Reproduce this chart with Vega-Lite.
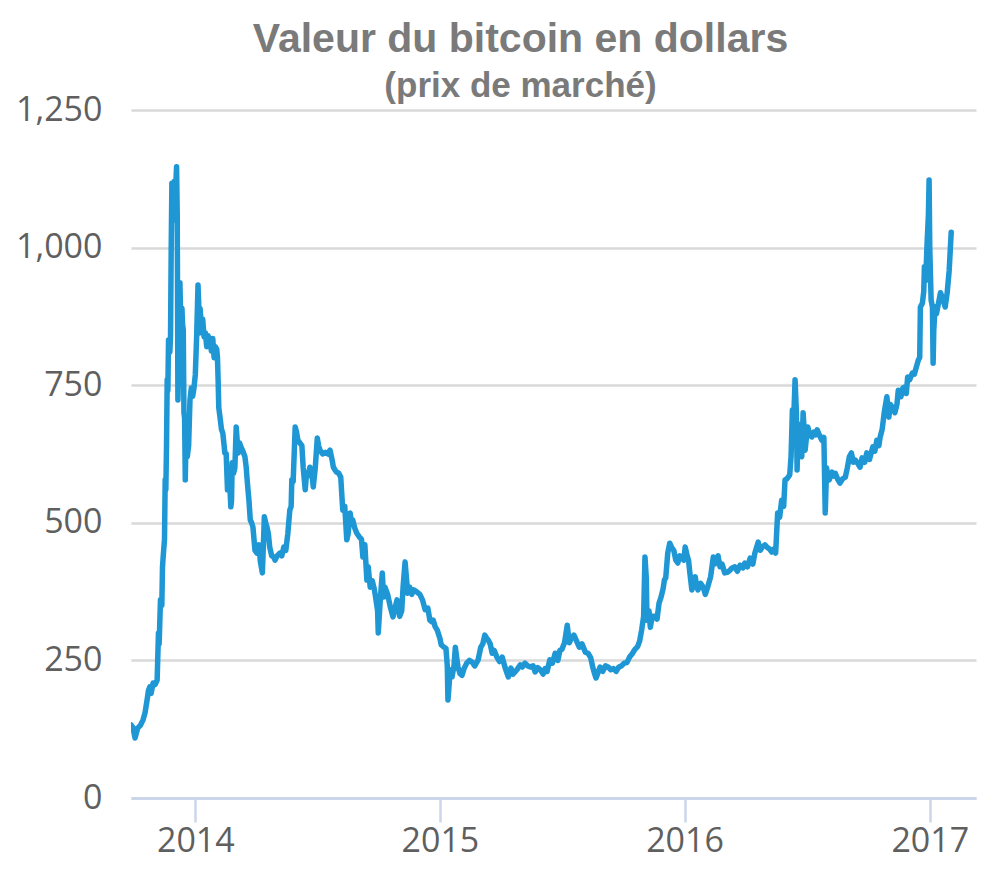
{
  "$schema": "https://vega.github.io/schema/vega-lite/v6.json",
  "autosize": {"type": "none"},
  "width": 845,
  "height": 688,
  "padding": {"left": 131, "top": 110, "right": 24, "bottom": 83},
  "background": "white",
  "title": {
    "text": "Valeur du bitcoin en dollars",
    "subtitle": "(prix de marché)",
    "anchor": "middle",
    "dx": -33,
    "offset": -12,
    "font": "Liberation Sans",
    "fontSize": 41,
    "fontWeight": "bold",
    "color": "#7a7a7a",
    "subtitleFont": "Liberation Sans",
    "subtitleFontSize": 35,
    "subtitleFontWeight": "bold",
    "subtitleColor": "#7a7a7a",
    "subtitlePadding": 8
  },
  "config": {
    "view": {"stroke": null}
  },
  "data": {
    "values": [
      {"date": "2013-09-27", "price": 133},
      {"date": "2013-09-30", "price": 128},
      {"date": "2013-10-03", "price": 109},
      {"date": "2013-10-07", "price": 127},
      {"date": "2013-10-11", "price": 132},
      {"date": "2013-10-15", "price": 142},
      {"date": "2013-10-18", "price": 155},
      {"date": "2013-10-21", "price": 178},
      {"date": "2013-10-23", "price": 195},
      {"date": "2013-10-25", "price": 202},
      {"date": "2013-10-27", "price": 190},
      {"date": "2013-10-30", "price": 209},
      {"date": "2013-11-02", "price": 206},
      {"date": "2013-11-05", "price": 214},
      {"date": "2013-11-07", "price": 300},
      {"date": "2013-11-08", "price": 280},
      {"date": "2013-11-10", "price": 360},
      {"date": "2013-11-12", "price": 350},
      {"date": "2013-11-13", "price": 420},
      {"date": "2013-11-14", "price": 438},
      {"date": "2013-11-16", "price": 470},
      {"date": "2013-11-17", "price": 578},
      {"date": "2013-11-18", "price": 560},
      {"date": "2013-11-19", "price": 640},
      {"date": "2013-11-20", "price": 760},
      {"date": "2013-11-21", "price": 740},
      {"date": "2013-11-22", "price": 832},
      {"date": "2013-11-24", "price": 810},
      {"date": "2013-11-25", "price": 840},
      {"date": "2013-11-26", "price": 1000},
      {"date": "2013-11-27", "price": 1117},
      {"date": "2013-11-28", "price": 1080},
      {"date": "2013-11-30", "price": 1120},
      {"date": "2013-12-01", "price": 1050},
      {"date": "2013-12-02", "price": 1090},
      {"date": "2013-12-04", "price": 1147},
      {"date": "2013-12-05", "price": 1060},
      {"date": "2013-12-06", "price": 723},
      {"date": "2013-12-07", "price": 780},
      {"date": "2013-12-08", "price": 900},
      {"date": "2013-12-09", "price": 936},
      {"date": "2013-12-10", "price": 880},
      {"date": "2013-12-11", "price": 869},
      {"date": "2013-12-12", "price": 890},
      {"date": "2013-12-13", "price": 860},
      {"date": "2013-12-14", "price": 850},
      {"date": "2013-12-15", "price": 700},
      {"date": "2013-12-16", "price": 690},
      {"date": "2013-12-17", "price": 578},
      {"date": "2013-12-18", "price": 650},
      {"date": "2013-12-19", "price": 690},
      {"date": "2013-12-20", "price": 620},
      {"date": "2013-12-22", "price": 640},
      {"date": "2013-12-24", "price": 723},
      {"date": "2013-12-26", "price": 745},
      {"date": "2013-12-28", "price": 730},
      {"date": "2013-12-30", "price": 745},
      {"date": "2014-01-01", "price": 770},
      {"date": "2014-01-03", "price": 840},
      {"date": "2014-01-05", "price": 932},
      {"date": "2014-01-06", "price": 900},
      {"date": "2014-01-07", "price": 845},
      {"date": "2014-01-08", "price": 890},
      {"date": "2014-01-10", "price": 860},
      {"date": "2014-01-12", "price": 870},
      {"date": "2014-01-14", "price": 838},
      {"date": "2014-01-16", "price": 845},
      {"date": "2014-01-18", "price": 820},
      {"date": "2014-01-20", "price": 840},
      {"date": "2014-01-23", "price": 830},
      {"date": "2014-01-25", "price": 812},
      {"date": "2014-01-27", "price": 835},
      {"date": "2014-01-29", "price": 800},
      {"date": "2014-01-31", "price": 820},
      {"date": "2014-02-02", "price": 815},
      {"date": "2014-02-03", "price": 801},
      {"date": "2014-02-04", "price": 760},
      {"date": "2014-02-05", "price": 709},
      {"date": "2014-02-07", "price": 690},
      {"date": "2014-02-09", "price": 670},
      {"date": "2014-02-11", "price": 663},
      {"date": "2014-02-13", "price": 640},
      {"date": "2014-02-14", "price": 627},
      {"date": "2014-02-16", "price": 626},
      {"date": "2014-02-18", "price": 560},
      {"date": "2014-02-19", "price": 572},
      {"date": "2014-02-21", "price": 578},
      {"date": "2014-02-23", "price": 529},
      {"date": "2014-02-24", "price": 540},
      {"date": "2014-02-25", "price": 609},
      {"date": "2014-02-27", "price": 590},
      {"date": "2014-03-01", "price": 600},
      {"date": "2014-03-03", "price": 674},
      {"date": "2014-03-05", "price": 640},
      {"date": "2014-03-06", "price": 627},
      {"date": "2014-03-08", "price": 645},
      {"date": "2014-03-10", "price": 638},
      {"date": "2014-03-13", "price": 630},
      {"date": "2014-03-16", "price": 620},
      {"date": "2014-03-18", "price": 600},
      {"date": "2014-03-19", "price": 583},
      {"date": "2014-03-21", "price": 554},
      {"date": "2014-03-22", "price": 541},
      {"date": "2014-03-24", "price": 505},
      {"date": "2014-03-26", "price": 500},
      {"date": "2014-03-28", "price": 492},
      {"date": "2014-03-31", "price": 450},
      {"date": "2014-04-03", "price": 445},
      {"date": "2014-04-06", "price": 460},
      {"date": "2014-04-08", "price": 430},
      {"date": "2014-04-11", "price": 409},
      {"date": "2014-04-12", "price": 440},
      {"date": "2014-04-14", "price": 511},
      {"date": "2014-04-16", "price": 500},
      {"date": "2014-04-18", "price": 492},
      {"date": "2014-04-20", "price": 480},
      {"date": "2014-04-22", "price": 456},
      {"date": "2014-04-25", "price": 440},
      {"date": "2014-04-28", "price": 438},
      {"date": "2014-04-30", "price": 432},
      {"date": "2014-05-03", "price": 440},
      {"date": "2014-05-07", "price": 445},
      {"date": "2014-05-10", "price": 440},
      {"date": "2014-05-13", "price": 456},
      {"date": "2014-05-16", "price": 450},
      {"date": "2014-05-19", "price": 480},
      {"date": "2014-05-22", "price": 523},
      {"date": "2014-05-24", "price": 530},
      {"date": "2014-05-25", "price": 578},
      {"date": "2014-05-27", "price": 575},
      {"date": "2014-05-30", "price": 674},
      {"date": "2014-06-01", "price": 665},
      {"date": "2014-06-03", "price": 650},
      {"date": "2014-06-06", "price": 645},
      {"date": "2014-06-09", "price": 640},
      {"date": "2014-06-11", "price": 600},
      {"date": "2014-06-14", "price": 560},
      {"date": "2014-06-16", "price": 590},
      {"date": "2014-06-18", "price": 585},
      {"date": "2014-06-21", "price": 601},
      {"date": "2014-06-24", "price": 590},
      {"date": "2014-06-26", "price": 565},
      {"date": "2014-06-29", "price": 600},
      {"date": "2014-07-02", "price": 654},
      {"date": "2014-07-04", "price": 640},
      {"date": "2014-07-06", "price": 632},
      {"date": "2014-07-10", "price": 625},
      {"date": "2014-07-14", "price": 628},
      {"date": "2014-07-18", "price": 625},
      {"date": "2014-07-21", "price": 632},
      {"date": "2014-07-24", "price": 615},
      {"date": "2014-07-26", "price": 601},
      {"date": "2014-07-29", "price": 595},
      {"date": "2014-07-31", "price": 592},
      {"date": "2014-08-03", "price": 590},
      {"date": "2014-08-06", "price": 583},
      {"date": "2014-08-09", "price": 523},
      {"date": "2014-08-12", "price": 530},
      {"date": "2014-08-15", "price": 469},
      {"date": "2014-08-17", "price": 480},
      {"date": "2014-08-20", "price": 518},
      {"date": "2014-08-22", "price": 500},
      {"date": "2014-08-24", "price": 505},
      {"date": "2014-08-27", "price": 490},
      {"date": "2014-08-30", "price": 481},
      {"date": "2014-09-03", "price": 474},
      {"date": "2014-09-06", "price": 470},
      {"date": "2014-09-08", "price": 438},
      {"date": "2014-09-11", "price": 460},
      {"date": "2014-09-14", "price": 396},
      {"date": "2014-09-16", "price": 420},
      {"date": "2014-09-19", "price": 383},
      {"date": "2014-09-22", "price": 395},
      {"date": "2014-09-25", "price": 380},
      {"date": "2014-09-27", "price": 365},
      {"date": "2014-09-30", "price": 340},
      {"date": "2014-10-01", "price": 300},
      {"date": "2014-10-04", "price": 360},
      {"date": "2014-10-07", "price": 409},
      {"date": "2014-10-09", "price": 365},
      {"date": "2014-10-11", "price": 383},
      {"date": "2014-10-15", "price": 370},
      {"date": "2014-10-19", "price": 347},
      {"date": "2014-10-23", "price": 329},
      {"date": "2014-10-26", "price": 345},
      {"date": "2014-10-29", "price": 360},
      {"date": "2014-11-02", "price": 330},
      {"date": "2014-11-05", "price": 340},
      {"date": "2014-11-07", "price": 383},
      {"date": "2014-11-10", "price": 429},
      {"date": "2014-11-12", "price": 400},
      {"date": "2014-11-14", "price": 372},
      {"date": "2014-11-17", "price": 383},
      {"date": "2014-11-20", "price": 370},
      {"date": "2014-11-23", "price": 378},
      {"date": "2014-11-27", "price": 375},
      {"date": "2014-12-02", "price": 370},
      {"date": "2014-12-06", "price": 360},
      {"date": "2014-12-10", "price": 342},
      {"date": "2014-12-14", "price": 345},
      {"date": "2014-12-17", "price": 323},
      {"date": "2014-12-20", "price": 320},
      {"date": "2014-12-22", "price": 323},
      {"date": "2014-12-25", "price": 311},
      {"date": "2014-12-28", "price": 305},
      {"date": "2015-01-01", "price": 290},
      {"date": "2015-01-03", "price": 278},
      {"date": "2015-01-07", "price": 274},
      {"date": "2015-01-10", "price": 272},
      {"date": "2015-01-12", "price": 240},
      {"date": "2015-01-13", "price": 178},
      {"date": "2015-01-15", "price": 210},
      {"date": "2015-01-16", "price": 233},
      {"date": "2015-01-19", "price": 220},
      {"date": "2015-01-22", "price": 240},
      {"date": "2015-01-24", "price": 274},
      {"date": "2015-01-26", "price": 255},
      {"date": "2015-01-28", "price": 238},
      {"date": "2015-01-31", "price": 226},
      {"date": "2015-02-03", "price": 223},
      {"date": "2015-02-06", "price": 235},
      {"date": "2015-02-10", "price": 245},
      {"date": "2015-02-14", "price": 250},
      {"date": "2015-02-18", "price": 247},
      {"date": "2015-02-22", "price": 240},
      {"date": "2015-02-27", "price": 251},
      {"date": "2015-03-03", "price": 274},
      {"date": "2015-03-06", "price": 280},
      {"date": "2015-03-09", "price": 296},
      {"date": "2015-03-12", "price": 290},
      {"date": "2015-03-14", "price": 287},
      {"date": "2015-03-17", "price": 280},
      {"date": "2015-03-20", "price": 263},
      {"date": "2015-03-23", "price": 268},
      {"date": "2015-03-27", "price": 256},
      {"date": "2015-03-31", "price": 248},
      {"date": "2015-04-04", "price": 256},
      {"date": "2015-04-08", "price": 238},
      {"date": "2015-04-13", "price": 220},
      {"date": "2015-04-15", "price": 228},
      {"date": "2015-04-17", "price": 236},
      {"date": "2015-04-20", "price": 225},
      {"date": "2015-04-23", "price": 229},
      {"date": "2015-04-27", "price": 235},
      {"date": "2015-05-01", "price": 242},
      {"date": "2015-05-04", "price": 238},
      {"date": "2015-05-08", "price": 245},
      {"date": "2015-05-12", "price": 240},
      {"date": "2015-05-16", "price": 238},
      {"date": "2015-05-20", "price": 240},
      {"date": "2015-05-23", "price": 229},
      {"date": "2015-05-27", "price": 237},
      {"date": "2015-05-31", "price": 233},
      {"date": "2015-06-04", "price": 225},
      {"date": "2015-06-07", "price": 235},
      {"date": "2015-06-10", "price": 230},
      {"date": "2015-06-14", "price": 251},
      {"date": "2015-06-18", "price": 245},
      {"date": "2015-06-22", "price": 263},
      {"date": "2015-06-26", "price": 250},
      {"date": "2015-06-29", "price": 268},
      {"date": "2015-07-02", "price": 270},
      {"date": "2015-07-06", "price": 282},
      {"date": "2015-07-10", "price": 314},
      {"date": "2015-07-13", "price": 282},
      {"date": "2015-07-16", "price": 290},
      {"date": "2015-07-20", "price": 296},
      {"date": "2015-07-24", "price": 285},
      {"date": "2015-07-28", "price": 274},
      {"date": "2015-08-01", "price": 280},
      {"date": "2015-08-06", "price": 265},
      {"date": "2015-08-10", "price": 263},
      {"date": "2015-08-14", "price": 255},
      {"date": "2015-08-17", "price": 238},
      {"date": "2015-08-20", "price": 225},
      {"date": "2015-08-22", "price": 218},
      {"date": "2015-08-25", "price": 228},
      {"date": "2015-08-28", "price": 238},
      {"date": "2015-09-01", "price": 230},
      {"date": "2015-09-05", "price": 240},
      {"date": "2015-09-09", "price": 238},
      {"date": "2015-09-13", "price": 233},
      {"date": "2015-09-17", "price": 235},
      {"date": "2015-09-21", "price": 230},
      {"date": "2015-09-25", "price": 238},
      {"date": "2015-09-29", "price": 240},
      {"date": "2015-10-03", "price": 245},
      {"date": "2015-10-07", "price": 246},
      {"date": "2015-10-11", "price": 256},
      {"date": "2015-10-15", "price": 262},
      {"date": "2015-10-19", "price": 270},
      {"date": "2015-10-23", "price": 275},
      {"date": "2015-10-26", "price": 285},
      {"date": "2015-10-29", "price": 305},
      {"date": "2015-11-01", "price": 330},
      {"date": "2015-11-03", "price": 438},
      {"date": "2015-11-05", "price": 400},
      {"date": "2015-11-06", "price": 323},
      {"date": "2015-11-09", "price": 340},
      {"date": "2015-11-11", "price": 310},
      {"date": "2015-11-14", "price": 330},
      {"date": "2015-11-18", "price": 330},
      {"date": "2015-11-21", "price": 325},
      {"date": "2015-11-24", "price": 354},
      {"date": "2015-11-27", "price": 365},
      {"date": "2015-11-30", "price": 380},
      {"date": "2015-12-02", "price": 396},
      {"date": "2015-12-04", "price": 400},
      {"date": "2015-12-07", "price": 445},
      {"date": "2015-12-10", "price": 463},
      {"date": "2015-12-13", "price": 455},
      {"date": "2015-12-16", "price": 450},
      {"date": "2015-12-19", "price": 432},
      {"date": "2015-12-22", "price": 427},
      {"date": "2015-12-25", "price": 440},
      {"date": "2015-12-28", "price": 438},
      {"date": "2015-12-31", "price": 432},
      {"date": "2016-01-02", "price": 456},
      {"date": "2016-01-05", "price": 440},
      {"date": "2016-01-07", "price": 432},
      {"date": "2016-01-09", "price": 409},
      {"date": "2016-01-12", "price": 378},
      {"date": "2016-01-15", "price": 395},
      {"date": "2016-01-17", "price": 402},
      {"date": "2016-01-19", "price": 385},
      {"date": "2016-01-21", "price": 378},
      {"date": "2016-01-25", "price": 390},
      {"date": "2016-01-29", "price": 383},
      {"date": "2016-02-01", "price": 370},
      {"date": "2016-02-05", "price": 385},
      {"date": "2016-02-09", "price": 402},
      {"date": "2016-02-13", "price": 438},
      {"date": "2016-02-15", "price": 425},
      {"date": "2016-02-17", "price": 432},
      {"date": "2016-02-20", "price": 440},
      {"date": "2016-02-23", "price": 420},
      {"date": "2016-02-26", "price": 425},
      {"date": "2016-03-01", "price": 409},
      {"date": "2016-03-05", "price": 410},
      {"date": "2016-03-09", "price": 414},
      {"date": "2016-03-12", "price": 418},
      {"date": "2016-03-16", "price": 420},
      {"date": "2016-03-20", "price": 412},
      {"date": "2016-03-24", "price": 423},
      {"date": "2016-03-28", "price": 418},
      {"date": "2016-03-31", "price": 427},
      {"date": "2016-04-04", "price": 420},
      {"date": "2016-04-08", "price": 436},
      {"date": "2016-04-12", "price": 425},
      {"date": "2016-04-15", "price": 445},
      {"date": "2016-04-20", "price": 465},
      {"date": "2016-04-23", "price": 450},
      {"date": "2016-04-26", "price": 456},
      {"date": "2016-04-30", "price": 460},
      {"date": "2016-05-03", "price": 456},
      {"date": "2016-05-07", "price": 452},
      {"date": "2016-05-10", "price": 447},
      {"date": "2016-05-13", "price": 452},
      {"date": "2016-05-16", "price": 445},
      {"date": "2016-05-19", "price": 518},
      {"date": "2016-05-22", "price": 510},
      {"date": "2016-05-25", "price": 541},
      {"date": "2016-05-28", "price": 530},
      {"date": "2016-05-30", "price": 578},
      {"date": "2016-06-02", "price": 580},
      {"date": "2016-06-06", "price": 587},
      {"date": "2016-06-08", "price": 620},
      {"date": "2016-06-10", "price": 705},
      {"date": "2016-06-12", "price": 690},
      {"date": "2016-06-14", "price": 760},
      {"date": "2016-06-16", "price": 700},
      {"date": "2016-06-17", "price": 596},
      {"date": "2016-06-19", "price": 680},
      {"date": "2016-06-21", "price": 632},
      {"date": "2016-06-24", "price": 620},
      {"date": "2016-06-26", "price": 700},
      {"date": "2016-06-28", "price": 660},
      {"date": "2016-06-29", "price": 632},
      {"date": "2016-07-01", "price": 655},
      {"date": "2016-07-03", "price": 674},
      {"date": "2016-07-06", "price": 660},
      {"date": "2016-07-09", "price": 656},
      {"date": "2016-07-12", "price": 665},
      {"date": "2016-07-15", "price": 660},
      {"date": "2016-07-17", "price": 669},
      {"date": "2016-07-20", "price": 660},
      {"date": "2016-07-24", "price": 650},
      {"date": "2016-07-27", "price": 655},
      {"date": "2016-07-29", "price": 518},
      {"date": "2016-07-31", "price": 600},
      {"date": "2016-08-01", "price": 590},
      {"date": "2016-08-04", "price": 578},
      {"date": "2016-08-08", "price": 592},
      {"date": "2016-08-11", "price": 585},
      {"date": "2016-08-13", "price": 590},
      {"date": "2016-08-17", "price": 578},
      {"date": "2016-08-20", "price": 572},
      {"date": "2016-08-24", "price": 580},
      {"date": "2016-08-28", "price": 583},
      {"date": "2016-08-31", "price": 600},
      {"date": "2016-09-03", "price": 620},
      {"date": "2016-09-06", "price": 627},
      {"date": "2016-09-09", "price": 610},
      {"date": "2016-09-12", "price": 614},
      {"date": "2016-09-15", "price": 609},
      {"date": "2016-09-19", "price": 601},
      {"date": "2016-09-22", "price": 618},
      {"date": "2016-09-26", "price": 610},
      {"date": "2016-09-29", "price": 627},
      {"date": "2016-10-03", "price": 615},
      {"date": "2016-10-08", "price": 638},
      {"date": "2016-10-11", "price": 630},
      {"date": "2016-10-14", "price": 650},
      {"date": "2016-10-17", "price": 640},
      {"date": "2016-10-19", "price": 656},
      {"date": "2016-10-22", "price": 670},
      {"date": "2016-10-25", "price": 700},
      {"date": "2016-10-29", "price": 729},
      {"date": "2016-11-01", "price": 692},
      {"date": "2016-11-03", "price": 715},
      {"date": "2016-11-06", "price": 710},
      {"date": "2016-11-08", "price": 705},
      {"date": "2016-11-10", "price": 700},
      {"date": "2016-11-13", "price": 715},
      {"date": "2016-11-15", "price": 741},
      {"date": "2016-11-17", "price": 735},
      {"date": "2016-11-19", "price": 729},
      {"date": "2016-11-22", "price": 745},
      {"date": "2016-11-25", "price": 747},
      {"date": "2016-11-27", "price": 735},
      {"date": "2016-11-29", "price": 765},
      {"date": "2016-12-02", "price": 760},
      {"date": "2016-12-06", "price": 772},
      {"date": "2016-12-09", "price": 770},
      {"date": "2016-12-12", "price": 783},
      {"date": "2016-12-15", "price": 796},
      {"date": "2016-12-17", "price": 800},
      {"date": "2016-12-18", "price": 892},
      {"date": "2016-12-21", "price": 899},
      {"date": "2016-12-23", "price": 920},
      {"date": "2016-12-24", "price": 965},
      {"date": "2016-12-26", "price": 940},
      {"date": "2016-12-28", "price": 1008},
      {"date": "2016-12-30", "price": 1060},
      {"date": "2016-12-31", "price": 1123},
      {"date": "2017-01-01", "price": 1000},
      {"date": "2017-01-03", "price": 905},
      {"date": "2017-01-05", "price": 892},
      {"date": "2017-01-06", "price": 790},
      {"date": "2017-01-07", "price": 850},
      {"date": "2017-01-09", "price": 892},
      {"date": "2017-01-11", "price": 880},
      {"date": "2017-01-14", "price": 899},
      {"date": "2017-01-17", "price": 918},
      {"date": "2017-01-21", "price": 905},
      {"date": "2017-01-24", "price": 892},
      {"date": "2017-01-27", "price": 918},
      {"date": "2017-01-30", "price": 959},
      {"date": "2017-02-02", "price": 1028}
    ]
  },
  "mark": {
    "type": "line",
    "color": "#1f97d4",
    "strokeWidth": 5.5,
    "strokeJoin": "round",
    "strokeCap": "round",
    "clip": true
  },
  "encoding": {
    "x": {
      "field": "date",
      "type": "temporal",
      "scale": {
        "type": "utc",
        "domain": [
          {"year": 2013, "month": 9, "date": 27, "utc": true},
          {"year": 2017, "month": 3, "date": 11, "utc": true}
        ],
        "nice": false
      },
      "axis": {
        "title": null,
        "values": [
          {"year": 2014, "month": 1, "date": 1, "utc": true},
          {"year": 2015, "month": 1, "date": 1, "utc": true},
          {"year": 2016, "month": 1, "date": 1, "utc": true},
          {"year": 2017, "month": 1, "date": 1, "utc": true}
        ],
        "format": "%Y",
        "grid": false,
        "domainColor": "#ccd6eb",
        "domainWidth": 3,
        "tickColor": "#ccd6eb",
        "tickWidth": 2.5,
        "tickSize": 24,
        "labelPadding": 2,
        "labelFont": "Open Sans",
        "labelFontSize": 34,
        "labelColor": "#5f5f5f",
        "labelFlush": false,
        "labelOverlap": false,
        "zindex": 1
      }
    },
    "y": {
      "field": "price",
      "type": "quantitative",
      "scale": {"domain": [0, 1250], "nice": false, "zero": true},
      "axis": {
        "title": null,
        "values": [0, 250, 500, 750, 1000, 1250],
        "format": ",d",
        "domain": false,
        "ticks": false,
        "grid": true,
        "gridColor": "#d9d9d9",
        "gridWidth": 2.5,
        "labelPadding": 29,
        "labelFont": "Open Sans",
        "labelFontSize": 34,
        "labelColor": "#5f5f5f",
        "labelOverlap": false
      }
    }
  }
}
